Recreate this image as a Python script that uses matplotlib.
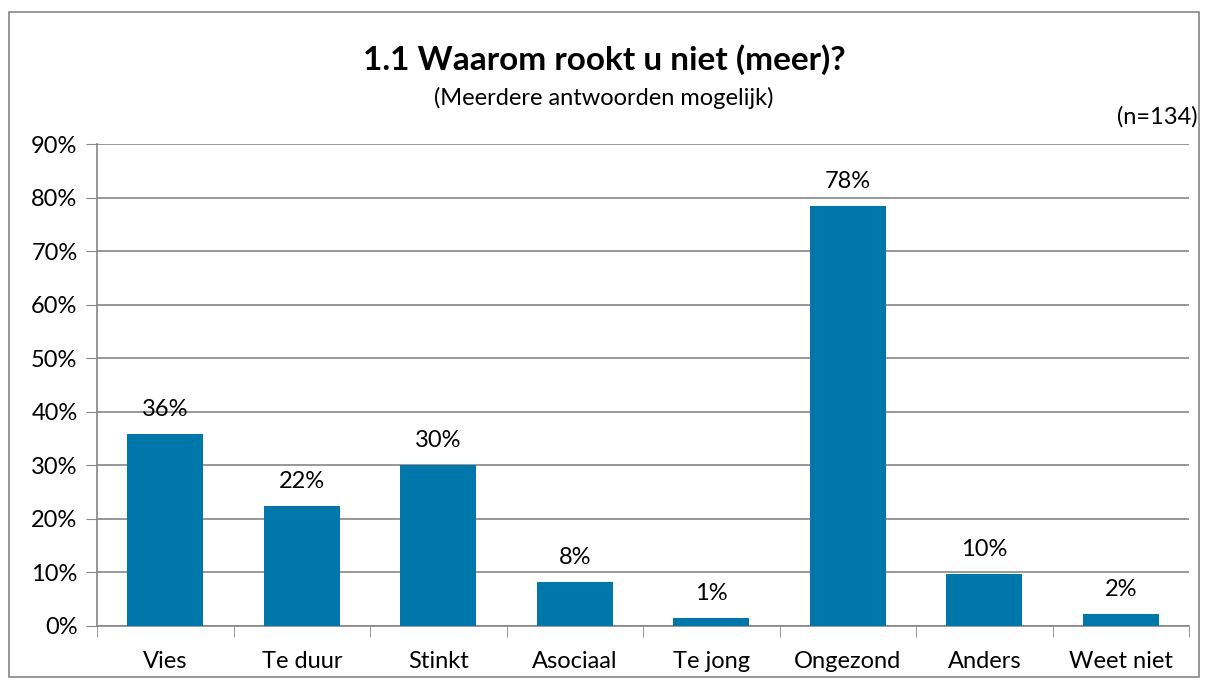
import matplotlib
matplotlib.use("Agg")
import matplotlib.pyplot as plt
from matplotlib.patches import Rectangle

categories = ["Vies", "Te duur", "Stinkt", "Asociaal", "Te jong", "Ongezond", "Anders", "Weet niet"]
values = [35.8, 22.4, 30.0, 8.2, 1.5, 78.4, 9.7, 2.2]
labels = ["36%", "22%", "30%", "8%", "1%", "78%", "10%", "2%"]
yticks = [0, 10, 20, 30, 40, 50, 60, 70, 80, 90]
ytick_labels = [f"{v}%" for v in yticks]

plt.rcParams['font.family'] = ['Lato', 'DejaVu Sans']

W, H = 1208, 686
fig = plt.figure(figsize=(W/100, H/100), dpi=100)
fig.patches.append(Rectangle((9/W, 1 - 677/H), (1199-9)/W, (677-12)/H, transform=fig.transFigure,
                             fill=False, edgecolor="#868686", linewidth=1.2))

ax = fig.add_axes([97/W, 1 - 626/H, (1189-97)/W, (626-144)/H])
x = list(range(len(categories)))
ax.bar(x, values, width=0.56, color="#0077AA", zorder=3)
ax.set_xlim(-0.5, len(categories) - 0.5)
ax.set_ylim(0, 90)
ax.set_yticks(yticks)
ax.set_yticklabels(ytick_labels, fontsize=17)
ax.set_xticks(x)
ax.set_xticklabels(categories, fontsize=17)
ax.tick_params(axis='x', length=0, pad=18)
ax.tick_params(axis='y', length=8, color="#868686", pad=6)
ax.set_xticks([i - 0.5 for i in range(len(categories) + 1)], minor=True)
ax.tick_params(axis='x', which='minor', length=8, color="#868686")
ax.grid(axis='y', color="#868686", linewidth=1.2, zorder=0)
for s in ['top', 'right']:
    ax.spines[s].set_visible(False)
for s in ['left', 'bottom']:
    ax.spines[s].set_color("#868686")
    ax.spines[s].set_linewidth(1.2)

for xi, v, lab in zip(x, values, labels):
    ax.annotate(lab, (xi, v), xytext=(0, 10), textcoords='offset points',
                ha='center', va='bottom', fontsize=17)

fig.text(0.5, 1 - 60/H, "1.1 Waarom rookt u niet (meer)?", ha='center', va='center',
         fontsize=24, fontweight='bold')
fig.text(0.5, 1 - 98/H, "(Meerdere antwoorden mogelijk)", ha='center', va='center', fontsize=17)
fig.text(1198/W, 1 - 117/H, "(n=134)", ha='right', va='center', fontsize=17)

fig.savefig("out.png", dpi=100)
